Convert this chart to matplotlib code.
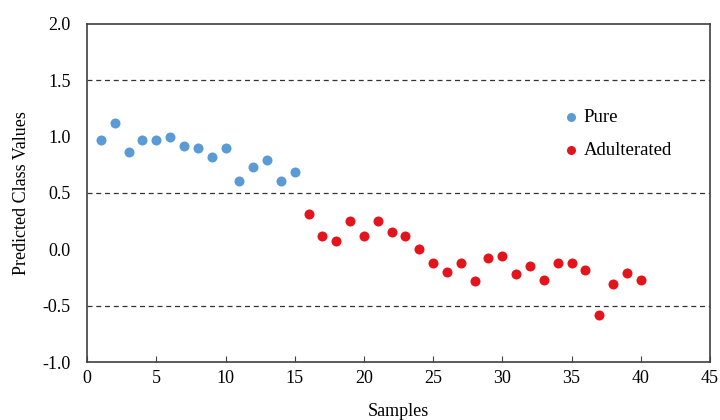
import matplotlib
matplotlib.use("Agg")
import matplotlib.pyplot as plt

pure_x = list(range(1, 16))
pure_y = [0.97, 1.12, 0.86, 0.97, 0.97, 1.00, 0.92, 0.90, 0.82, 0.90, 0.61, 0.73, 0.79, 0.61, 0.69]
adul_x = list(range(16, 41))
adul_y = [0.31, 0.12, 0.07, 0.25, 0.12, 0.25, 0.15, 0.12, 0.00, -0.12,
          -0.20, -0.12, -0.28, -0.08, -0.06, -0.22, -0.15, -0.27, -0.12, -0.12,
          -0.18, -0.58, -0.31, -0.21, -0.27]
thresholds = [1.5, 0.5, -0.5]
xticks = [0, 5, 10, 15, 20, 25, 30, 35, 40, 45]
yticks = [-1.0, -0.5, 0.0, 0.5, 1.0, 1.5, 2.0]

plt.rcParams['font.family'] = ['Liberation Serif', 'DejaVu Serif']

fig = plt.figure(figsize=(7.2, 4.2), dpi=100)
ax = fig.add_axes([0.121, 0.138, 0.865, 0.805])

for t in thresholds:
    ax.axhline(t, color='#333333', linestyle=(0, (4, 3)), linewidth=0.9, zorder=1)

ax.scatter(pure_x, pure_y, s=52, color='#5B9BD5', label='Pure', zorder=3, linewidths=0)
ax.scatter(adul_x, adul_y, s=52, color='#E3141C', label='Adulterated', zorder=3, linewidths=0)

ax.set_xlim(0, 45)
ax.set_ylim(-1.0, 2.0)
ax.set_xticks(xticks)
ax.set_yticks(yticks)
ax.set_yticklabels([f"{v:.1f}" for v in yticks])
ax.tick_params(axis='x', direction='in', length=4, labelsize=13, pad=6, color='#404040')
ax.tick_params(axis='y', direction='in', length=0, labelsize=13, pad=12)
for sp in ax.spines.values():
    sp.set_color('#404040')
    sp.set_linewidth(1.2)

ax.set_xlabel('Samples', fontsize=13, labelpad=11)
ax.set_ylabel('Predicted Class Values', fontsize=13, labelpad=9)

leg = ax.legend(loc='upper left', bbox_to_anchor=(0.735, 0.772), frameon=False,
                fontsize=13.5, handletextpad=-0.35, labelspacing=0.85, markerscale=0.9,
                borderaxespad=0)

fig.savefig('out.png', dpi=100)
